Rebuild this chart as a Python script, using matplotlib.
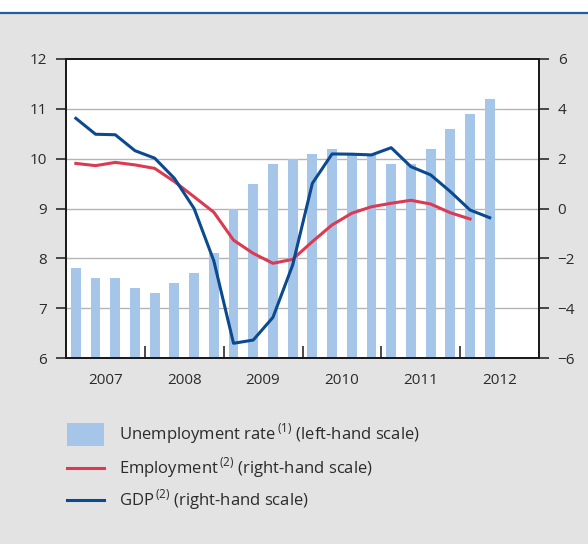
import numpy as np
import matplotlib.pyplot as plt
from matplotlib.lines import Line2D
from matplotlib.patches import Rectangle

plt.rcParams['font.family'] = ['Open Sans', 'DejaVu Sans']
plt.rcParams['mathtext.fontset'] = 'custom'
plt.rcParams['mathtext.rm'] = 'Open Sans'

# quarterly data, 2007Q1 onwards
years = ['2007', '2008', '2009', '2010', '2011', '2012']
unemployment = [7.8, 7.6, 7.6, 7.4, 7.3, 7.5, 7.7, 8.1, 9.0, 9.5, 9.9, 10.0,
                10.1, 10.2, 10.1, 10.1, 9.9, 9.9, 10.2, 10.6, 10.9, 11.2]
employment = [1.81, 1.72, 1.85, 1.75, 1.61, 1.08, 0.47, -0.15, -1.27, -1.80, -2.20,
              -2.04, -1.33, -0.66, -0.19, 0.07, 0.21, 0.33, 0.18, -0.17, -0.42]
gdp = [3.62, 2.98, 2.96, 2.32, 2.02, 1.21, 0.00, -2.10, -5.41, -5.28, -4.37,
       -2.27, 1.01, 2.19, 2.18, 2.15, 2.44, 1.68, 1.35, 0.68, -0.06, -0.37]

bg = '#e3e3e3'
bar_col = '#a5c6e9'
red = '#dc3a52'
blue = '#0b4a8e'
txt = '#2b2b2b'

fig = plt.figure(figsize=(5.88, 5.44), dpi=100, facecolor=bg)
W, H = 588, 544

# white strip and blue rule at the top
fig.patches.append(Rectangle((0, 1 - 12 / H), 1, 12 / H, transform=fig.transFigure,
                             facecolor='white', edgecolor='none'))
fig.lines.append(Line2D([0, 1], [1 - 12.5 / H, 1 - 12.5 / H], transform=fig.transFigure,
                        color='#1f5f9e', lw=1.6))

ax = fig.add_axes([66 / W, 1 - 358 / H, (539 - 66) / W, (358 - 59) / H])
ax.set_facecolor('white')
x_bar = np.arange(len(unemployment)) + 0.5
ax.bar(x_bar, unemployment, width=0.5, color=bar_col, zorder=2)
ax.set_xlim(0, 24)
ax.set_ylim(6, 12)
ax.set_yticks(range(6, 13))
for y in range(7, 12):
    ax.axhline(y, color='#b4b4b4', lw=1.0, zorder=1)

# year boundaries as ticks inside, year names centred as minor labels
ax.set_xticks([4, 8, 12, 16, 20])
ax.set_xticklabels([])
ax.set_xticks(np.arange(len(years)) * 4 + 2, minor=True)
ax.set_xticklabels(years, minor=True)
ax.tick_params(axis='x', which='major', direction='in', length=8.5, width=1.2, color=txt)
ax.tick_params(axis='x', which='minor', length=0, pad=11, labelsize=11, labelcolor=txt)
ax.tick_params(axis='y', direction='out', length=7.5, width=1.2, color=txt, pad=6,
               labelsize=11, labelcolor=txt)
for s in ax.spines.values():
    s.set_color('#1a1a1a')
    s.set_linewidth(1.3)

ax2 = ax.twinx()
ax2.plot(np.arange(len(employment)) + 0.5, employment, color=red, lw=2.2, zorder=3)
ax2.plot(np.arange(len(gdp)) + 0.5, gdp, color=blue, lw=2.2, zorder=4)
ax2.set_ylim(-6, 6)
ax2.set_yticks(range(-6, 7, 2))
ax2.set_yticklabels([str(v).replace('-', '\u2212') for v in range(-6, 7, 2)])
ax2.tick_params(axis='y', direction='out', length=7.5, width=1.2, color=txt, pad=6,
                labelsize=11, labelcolor=txt)
for s in ax2.spines.values():
    s.set_color('#1a1a1a')
    s.set_linewidth(1.3)

# legend
fig.patches.append(Rectangle((67 / W, 1 - 446 / H), 37 / W, 23 / H, transform=fig.transFigure,
                             facecolor=bar_col, edgecolor='none'))
fig.lines.append(Line2D([67 / W, 104 / W], [1 - 468 / H] * 2, transform=fig.transFigure,
                        color=red, lw=2.2))
fig.lines.append(Line2D([67 / W, 104 / W], [1 - 500 / H] * 2, transform=fig.transFigure,
                        color=blue, lw=2.2))
labels = ['Unemployment rate$^{\\,(1)}$ (left-hand scale)',
          'Employment$^{\\,(2)}$ (right-hand scale)',
          'GDP$^{\\,(2)}$ (right-hand scale)']
for lab, yy in zip(labels, [434, 468, 500]):
    fig.text(119 / W, 1 - yy / H, lab, fontsize=12, color=txt, va='center', ha='left')

fig.savefig('out.png', dpi=100, facecolor=bg)
